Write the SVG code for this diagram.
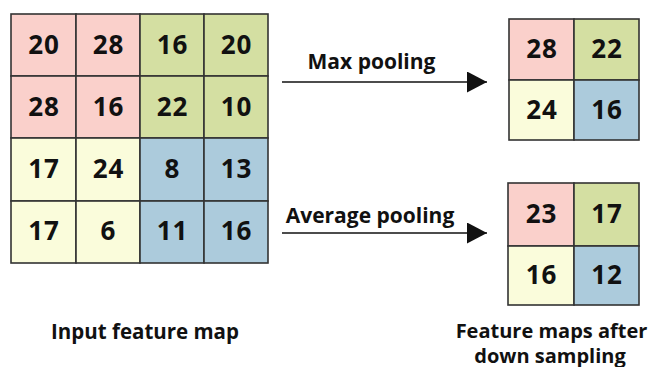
<svg xmlns="http://www.w3.org/2000/svg" width="650" height="367" viewBox="0 0 650 367">
  <style>
    .cell { stroke: #333; stroke-width: 1.6; }
    .pink { fill: #fad0cb; }
    .green { fill: #d4dfa2; }
    .yellow { fill: #fafcdb; }
    .blue { fill: #accbdc; }
    .num { font-family: "Open Sans", "DejaVu Sans", sans-serif; font-weight: 700; font-size: 26px; fill: #111; text-anchor: middle; letter-spacing: 1px; }
    .lbl { font-family: "Open Sans", "DejaVu Sans", sans-serif; font-weight: 700; font-size: 21px; fill: #111; text-anchor: middle; }
    .conn { stroke: #111; stroke-width: 1.6; fill: none; }
  </style>
  <defs>
    <marker id="arrow" markerWidth="20" markerHeight="21" refX="20" refY="10.5" orient="auto" markerUnits="userSpaceOnUse">
      <path d="M0,0 L20,10.5 L0,21 Z" fill="#111"/>
    </marker>
  </defs>
  <rect width="650" height="367" fill="#fff"/>

  <!-- 4x4 input feature map -->
  <g id="input-map">
    <rect class="cell pink" x="11" y="14" width="65" height="62"/>
    <rect class="cell pink" x="76" y="14" width="64" height="62"/>
    <rect class="cell green" x="140" y="14" width="64" height="62"/>
    <rect class="cell green" x="204" y="14" width="64" height="62"/>
    <rect class="cell pink" x="11" y="76" width="65" height="62"/>
    <rect class="cell pink" x="76" y="76" width="64" height="62"/>
    <rect class="cell green" x="140" y="76" width="64" height="62"/>
    <rect class="cell green" x="204" y="76" width="64" height="62"/>
    <rect class="cell yellow" x="11" y="138" width="65" height="63"/>
    <rect class="cell yellow" x="76" y="138" width="64" height="63"/>
    <rect class="cell blue" x="140" y="138" width="64" height="63"/>
    <rect class="cell blue" x="204" y="138" width="64" height="63"/>
    <rect class="cell yellow" x="11" y="201" width="65" height="62"/>
    <rect class="cell yellow" x="76" y="201" width="64" height="62"/>
    <rect class="cell blue" x="140" y="201" width="64" height="62"/>
    <rect class="cell blue" x="204" y="201" width="64" height="62"/>
    <text class="num" x="44" y="54">20</text>
    <text class="num" x="108.5" y="54">28</text>
    <text class="num" x="172.5" y="54">16</text>
    <text class="num" x="236.5" y="54">20</text>
    <text class="num" x="44" y="116">28</text>
    <text class="num" x="108.5" y="116">16</text>
    <text class="num" x="172.5" y="116">22</text>
    <text class="num" x="236.5" y="116">10</text>
    <text class="num" x="44" y="178">17</text>
    <text class="num" x="108.5" y="178">24</text>
    <text class="num" x="172.5" y="178">8</text>
    <text class="num" x="236.5" y="178">13</text>
    <text class="num" x="44" y="240">17</text>
    <text class="num" x="108.5" y="240">6</text>
    <text class="num" x="172.5" y="240">11</text>
    <text class="num" x="236.5" y="240">16</text>
  </g>

  <!-- 2x2 max pooling result -->
  <g id="max-map">
    <rect class="cell pink" x="509" y="19" width="65" height="61"/>
    <rect class="cell green" x="574" y="19" width="65" height="61"/>
    <rect class="cell yellow" x="509" y="80" width="65" height="60"/>
    <rect class="cell blue" x="574" y="80" width="65" height="60"/>
    <text class="num" x="542" y="58">28</text>
    <text class="num" x="607" y="58">22</text>
    <text class="num" x="542" y="119">24</text>
    <text class="num" x="607" y="119">16</text>
  </g>

  <!-- 2x2 average pooling result -->
  <g id="avg-map">
    <rect class="cell pink" x="508" y="183" width="66" height="63"/>
    <rect class="cell green" x="574" y="183" width="65" height="63"/>
    <rect class="cell yellow" x="508" y="246" width="66" height="59"/>
    <rect class="cell blue" x="574" y="246" width="65" height="59"/>
    <text class="num" x="541.5" y="223">23</text>
    <text class="num" x="607" y="223">17</text>
    <text class="num" x="541.5" y="284">16</text>
    <text class="num" x="607" y="284">12</text>
  </g>

  <!-- pooling arrows -->
  <g id="connectors">
    <line class="conn" x1="282" y1="82" x2="487" y2="82" marker-end="url(#arrow)"/>
    <line class="conn" x1="282" y1="233" x2="487" y2="233" marker-end="url(#arrow)"/>
  </g>

  <g id="labels">
    <text class="lbl" x="371.5" y="69">Max pooling</text>
    <text class="lbl" x="370" y="223">Average pooling</text>
    <text class="lbl" x="145" y="339" style="font-size:20.5px">Input feature map</text>
    <text class="lbl" x="551.5" y="337.5" style="font-size:20px">Feature maps after</text>
    <text class="lbl" x="550" y="362.5" style="font-size:20px">down sampling</text>
  </g>
</svg>
